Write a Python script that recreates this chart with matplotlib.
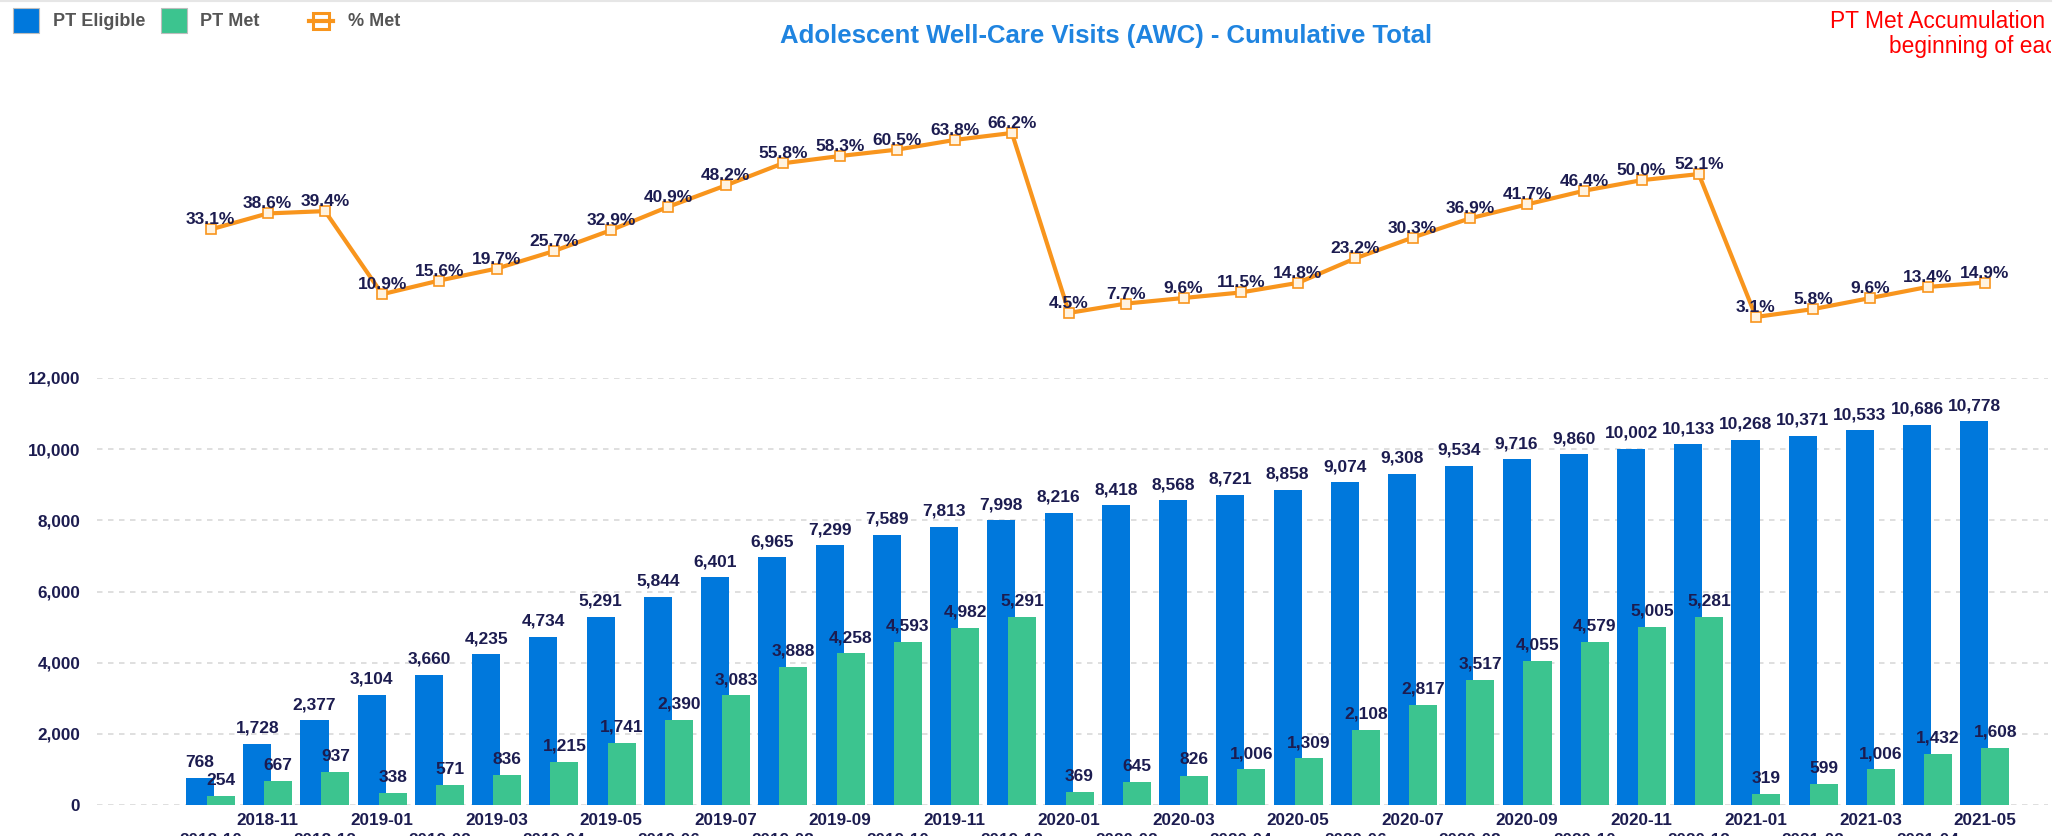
import numpy as np
import matplotlib
matplotlib.use("Agg")
import matplotlib.pyplot as plt
from matplotlib.patches import Rectangle
from matplotlib.lines import Line2D
from matplotlib.transforms import Bbox, TransformedBbox
from matplotlib.ticker import FuncFormatter, FixedLocator

# ---------------- data ----------------
months = ["2018-10", "2018-11", "2018-12",
          "2019-01", "2019-02", "2019-03", "2019-04", "2019-05", "2019-06",
          "2019-07", "2019-08", "2019-09", "2019-10", "2019-11", "2019-12",
          "2020-01", "2020-02", "2020-03", "2020-04", "2020-05", "2020-06",
          "2020-07", "2020-08", "2020-09", "2020-10", "2020-11", "2020-12",
          "2021-01", "2021-02", "2021-03", "2021-04", "2021-05"]
pt_eligible = [768, 1728, 2377, 3104, 3660, 4235, 4734, 5291, 5844, 6401, 6965,
               7299, 7589, 7813, 7998, 8216, 8418, 8568, 8721, 8858, 9074, 9308,
               9534, 9716, 9860, 10002, 10133, 10268, 10371, 10533, 10686, 10778]
pt_met = [254, 667, 937, 338, 571, 836, 1215, 1741, 2390, 3083, 3888, 4258,
          4593, 4982, 5291, 369, 645, 826, 1006, 1309, 2108, 2817, 3517, 4055,
          4579, 5005, 5281, 319, 599, 1006, 1432, 1608]
pct_met = [33.1, 38.6, 39.4, 10.9, 15.6, 19.7, 25.7, 32.9, 40.9, 48.2, 55.8,
           58.3, 60.5, 63.8, 66.2, 4.5, 7.7, 9.6, 11.5, 14.8, 23.2, 30.3, 36.9,
           41.7, 46.4, 50.0, 52.1, 3.1, 5.8, 9.6, 13.4, 14.9]
y_ticks = [0, 2000, 4000, 6000, 8000, 10000, 12000]

title = "Adolescent Well-Care Visits (AWC) - Cumulative Total"
note_line1 = "PT Met Accumulation resets at the"
note_line2 = "beginning of each year"
legend_labels = ["PT Eligible", "PT Met", "% Met"]

# ---------------- style ----------------
W, H = 2069, 836
BLUE = "#0078dc"
GREEN = "#3cc48f"
ORANGE = "#f8951d"
NAVY = "#1c1c50"
GRID = "#d6d6d6"
FONT = ["Liberation Sans", "DejaVu Sans"]
plt.rcParams["font.family"] = FONT

fig = plt.figure(figsize=(W / 100, H / 100), dpi=100)


def fx(px):
    return px / W


def fy(py):
    return 1 - py / H


x = np.arange(len(months))
left_px, right_px = 97, 2048
cat0_px, cat_step = 210.5, 57.24
xmin = -(cat0_px - left_px) / cat_step
xmax = (right_px - cat0_px) / cat_step

# ---------------- bar axes ----------------
bar_bottom, bar_top = 805, 378
ax = fig.add_axes([fx(left_px), fy(bar_bottom), fx(right_px - left_px),
                   (bar_bottom - bar_top) / H])
off, bw = 0.183, 0.49
ax.bar(x - off, pt_eligible, width=bw, color=BLUE, zorder=2)
ax.bar(x + off, pt_met, width=bw, color=GREEN, zorder=3)
ax.set_xlim(xmin, xmax)
ax.set_ylim(0, 12000)
for s in ax.spines.values():
    s.set_visible(False)
ax.yaxis.set_major_locator(FixedLocator(y_ticks))
ax.yaxis.set_major_formatter(FuncFormatter(lambda v, p: f"{int(v):,}"))
ax.tick_params(axis="y", length=0, pad=12, labelsize=12.3, labelcolor=NAVY)
for lab in ax.get_yticklabels():
    lab.set_fontweight("bold")
for yv in y_ticks:
    ax.axhline(yv, color=GRID, lw=1.1, dashes=(3.6, 3.6), zorder=1)

odd = x[1::2]
even = x[0::2]
ax.set_xticks(odd)
ax.set_xticklabels([months[i] for i in odd], fontweight="bold")
ax.set_xticks(even, minor=True)
ax.set_xticklabels([months[i] for i in even], minor=True, fontweight="bold")
ax.tick_params(axis="x", which="major", length=0, pad=5.5, labelsize=12.3,
               labelcolor=NAVY)
ax.tick_params(axis="x", which="minor", length=0, pad=20, labelsize=12.3,
               labelcolor=NAVY)

for xi, v in zip(x, pt_eligible):
    ax.annotate(f"{v:,}", (xi - off, v), xytext=(0, 8), textcoords="offset points",
                ha="center", va="baseline", fontsize=12.5, fontweight="bold",
                color=NAVY, zorder=5, annotation_clip=False)
for xi, v in zip(x, pt_met):
    ax.annotate(f"{v:,}", (xi + off, v), xytext=(0, 8), textcoords="offset points",
                ha="center", va="baseline", fontsize=12.5, fontweight="bold",
                color=NAVY, zorder=5, annotation_clip=False)

# ---------------- line axes ----------------
ppp = 2.916  # px per percent
line_bottom = 326
line_top = line_bottom - 80 * ppp
ax2 = fig.add_axes([fx(left_px), fy(line_bottom), fx(right_px - left_px),
                    (line_bottom - line_top) / H])
ax2.plot(x, pct_met, color=ORANGE, lw=3, marker="s", markersize=7,
         markerfacecolor="#fff3e0", markeredgecolor=ORANGE, markeredgewidth=1.2,
         solid_joinstyle="miter", zorder=3)
ax2.set_xlim(xmin, xmax)
ax2.set_ylim(0, 80)
ax2.axis("off")
for xi, v in zip(x, pct_met):
    ax2.annotate(f"{v:.1f}%", (xi, v), xytext=(0, 3.6), textcoords="offset points",
                 ha="center", va="baseline", fontsize=12.5, fontweight="bold",
                 color=NAVY, zorder=5, annotation_clip=False)

# ---------------- title ----------------
t = fig.text(fx(1106), fy(36), title, ha="center", va="center",
             fontsize=16, fontweight="bold", color="#1f84e0")
fig.canvas.draw()
w = t.get_window_extent().width
t.set_fontsize(16 * 652 / w)

# top separator line
fig.add_artist(Line2D([0, fx(2051)], [fy(0.5), fy(0.5)], color="#e6e6e6", lw=1.5,
                      transform=fig.transFigure))

# ---------------- note (clipped on right) ----------------
clip = TransformedBbox(Bbox([[0, 0], [fx(2051), 1]]), fig.transFigure)
n1 = fig.text(fx(1830), fy(22), note_line1, ha="left", va="center",
              fontsize=16.4, color="#ff0000")
n2 = fig.text(fx(1889), fy(47), note_line2, ha="left", va="center",
              fontsize=16.4, color="#ff0000")
for n in (n1, n2):
    n.set_clip_box(clip)
    n.set_clip_on(True)

# ---------------- legend ----------------
def px_rect(x0, y0, x1, y1, color):
    r = Rectangle((fx(x0), fy(y1)), fx(x1 - x0), (y1 - y0) / H,
                  transform=fig.transFigure, facecolor=color,
                  edgecolor="#bdbdbd", lw=0.8)
    fig.add_artist(r)

px_rect(13, 8, 39, 33, BLUE)
fig.text(fx(53), fy(21), legend_labels[0], ha="left", va="center",
         fontsize=13, fontweight="bold", color="#555555")
px_rect(161, 8, 187, 33, GREEN)
fig.text(fx(200), fy(21), legend_labels[1], ha="left", va="center",
         fontsize=13, fontweight="bold", color="#555555")
fig.add_artist(Line2D([fx(309), fx(333)], [fy(21), fy(21)], color=ORANGE, lw=3,
                      transform=fig.transFigure))
fig.add_artist(Line2D([fx(321)], [fy(21)], marker="s", markersize=11,
                      markerfacecolor="none", markeredgecolor=ORANGE,
                      markeredgewidth=2.2, transform=fig.transFigure))
fig.text(fx(348), fy(21), legend_labels[2], ha="left", va="center",
         fontsize=13, fontweight="bold", color="#555555")

fig.savefig("out.png", dpi=100, facecolor="white")
